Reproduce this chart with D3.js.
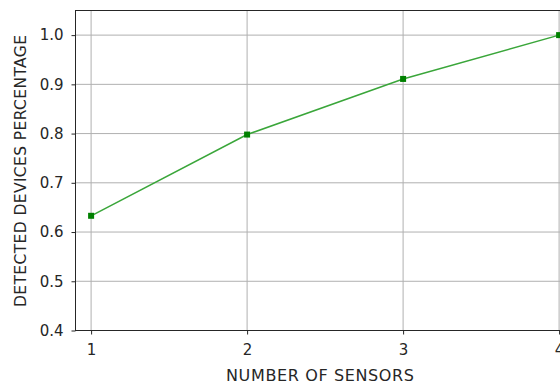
<!DOCTYPE html>
<html><head><meta charset="utf-8">
<script src="https://cdn.jsdelivr.net/npm/d3@7"></script>
<style>
body{margin:0;background:#fff;}
svg{display:block;font-family:"DejaVu Sans",sans-serif;}
</style></head>
<body><svg id="c" width="560" height="385"></svg>
<script>
const sensors = [1, 2, 3, 4];
const detected = [0.633, 0.798, 0.911, 1.0];
const yTicks = [0.4, 0.5, 0.6, 0.7, 0.8, 0.9, 1.0];
const xTicks = [1, 2, 3, 4];
const xLabel = "NUMBER OF SENSORS";
const yLabel = "DETECTED DEVICES PERCENTAGE";

const svg = d3.select("#c");
const L = 75.5, T = 10.5, B = 330.5;
const x = d3.scaleLinear().domain([0.9, 4.1]).range([L, L + 3.2 * 156]);
const y = d3.scaleLinear().domain([0.4, 1.05]).range([B, T]);
const R = x(4.1);

// grid
svg.append("g").selectAll("line").data(xTicks).join("line")
  .attr("x1", d => x(d)).attr("x2", d => x(d)).attr("y1", T).attr("y2", B)
  .attr("stroke", "#b0b0b0").attr("stroke-width", 1);
svg.append("g").selectAll("line").data(yTicks).join("line")
  .attr("x1", L).attr("x2", R).attr("y1", d => y(d)).attr("y2", d => y(d))
  .attr("stroke", "#b0b0b0").attr("stroke-width", 1);

// axes
const xAxis = svg.append("g").attr("transform", `translate(0,${B})`)
  .call(d3.axisBottom(x).tickValues(xTicks).tickFormat(d3.format("d")).tickSizeOuter(0).tickSize(4).tickPadding(10));
const yAxis = svg.append("g").attr("transform", `translate(${L},0)`)
  .call(d3.axisLeft(y).tickValues(yTicks).tickFormat(d3.format(".1f")).tickSizeOuter(0).tickSize(4).tickPadding(8));
[xAxis, yAxis].forEach(g => {
  g.select(".domain").remove();
  g.selectAll("text").attr("font-size", "15px").attr("fill", "#262626").attr("font-family", "DejaVu Sans");
  g.selectAll("line").attr("stroke", "#262626");
});

// frame
svg.append("rect").attr("x", L).attr("y", T).attr("width", R - L).attr("height", B - T)
  .attr("fill", "none").attr("stroke", "#262626").attr("stroke-width", 1);

// line
const pts = sensors.map((s, i) => [s, detected[i]]);
svg.append("path").datum(pts)
  .attr("fill", "none").attr("stroke", "#3aa63a").attr("stroke-width", 1.5)
  .attr("d", d3.line().x(d => x(d[0])).y(d => y(d[1])));
svg.append("g").selectAll("rect").data(pts).join("rect")
  .attr("x", d => x(d[0]) - 3).attr("y", d => y(d[1]) - 3).attr("width", 6).attr("height", 6)
  .attr("fill", "#008000");

// labels
svg.append("text").attr("x", 320).attr("y", 381)
  .attr("text-anchor", "middle").attr("font-size", "16px").attr("fill", "#262626")
  .attr("textLength", 188).attr("lengthAdjust", "spacing").text(xLabel);
svg.append("text").attr("transform", `translate(26,171) rotate(-90)`)
  .attr("text-anchor", "middle").attr("font-size", "15.5px").attr("fill", "#262626")
  .attr("textLength", 272).attr("lengthAdjust", "spacing").text(yLabel);
</script></body></html>
